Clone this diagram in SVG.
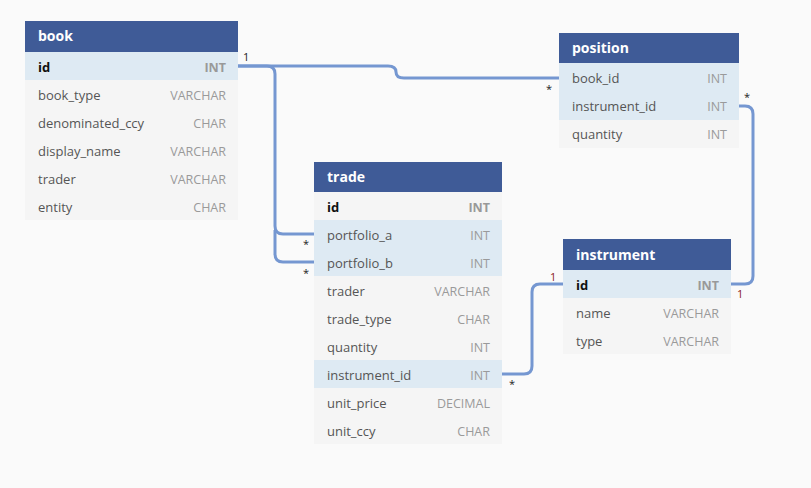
<svg xmlns="http://www.w3.org/2000/svg" width="811" height="488" viewBox="0 0 811 488">
<style>
text{font-family:"Open Sans","Noto Sans","DejaVu Sans",sans-serif}
.hd{fill:#3f5b97}
.hdt{fill:#fff;font-size:14px;font-weight:bold}
.r{fill:#f5f5f5}
.k{fill:#deeaf3}
.n{fill:#555;font-size:13px}
.t{fill:#9a9a9a;font-size:12.5px;text-anchor:end}
.pk{fill:#111;font-size:13px;font-weight:bold}
.pkt{fill:#999;font-size:12.5px;font-weight:bold;text-anchor:end}
.c{fill:none;stroke:#7597d1;stroke-width:3}
.m{font-size:11px;fill:#222}
.o{font-size:11px;fill:#8b1a1a}
</style>
<rect width="811" height="488" fill="#fafafa"/>
<g id="connectors">
<path class="c" d="M238 66 H388 Q396 66 396 72 Q396 78 404 78 H559"/>
<path class="c" d="M238 66 H267 Q275 66 275 74 V226 Q275 234 283 234 H314"/>
<path class="c" d="M275 230 V254 Q275 262 283 262 H314"/>
<path class="c" d="M739 106 H745 Q753 106 753 114 V276 Q753 284 745 284 H731"/>
<path class="c" d="M502 374 H524 Q532 374 532 366 V292 Q532 284 540 284 H563"/>
<text class="m" x="243" y="61">1</text>
<text class="m" x="546" y="93">*</text>
<text class="m" x="303" y="248">*</text>
<text class="m" x="303" y="277">*</text>
<text class="m" x="744" y="101">*</text>
<text class="o" x="737" y="298">1</text>
<text class="o" x="550" y="281">1</text>
<text class="m" x="509" y="388">*</text>
</g>
<g id="book">
<rect class="hd" x="25" y="21" width="213" height="31"/>
<text class="hdt" x="38" y="41">book</text>
<rect class="k" x="25" y="52" width="213" height="28"/>
<rect class="r" x="25" y="80" width="213" height="140"/>
<text class="pk" x="38" y="72">id</text><text class="pkt" x="226" y="72">INT</text>
<text class="n" x="38" y="100">book_type</text><text class="t" x="226" y="100">VARCHAR</text>
<text class="n" x="38" y="128">denominated_ccy</text><text class="t" x="226" y="128">CHAR</text>
<text class="n" x="38" y="156">display_name</text><text class="t" x="226" y="156">VARCHAR</text>
<text class="n" x="38" y="184">trader</text><text class="t" x="226" y="184">VARCHAR</text>
<text class="n" x="38" y="212">entity</text><text class="t" x="226" y="212">CHAR</text>
</g>
<g id="position">
<rect class="hd" x="559" y="33" width="180" height="30"/>
<text class="hdt" x="572" y="53">position</text>
<rect class="k" x="559" y="63" width="180" height="57"/>
<rect class="r" x="559" y="120" width="180" height="28"/>
<text class="n" x="572" y="83">book_id</text><text class="t" x="727" y="83">INT</text>
<text class="n" x="572" y="111">instrument_id</text><text class="t" x="727" y="111">INT</text>
<text class="n" x="572" y="139">quantity</text><text class="t" x="727" y="139">INT</text>
</g>
<g id="trade">
<rect class="hd" x="314" y="162" width="188" height="30"/>
<text class="hdt" x="327" y="182">trade</text>
<rect class="r" x="314" y="192" width="188" height="252"/>
<rect class="k" x="314" y="220" width="188" height="56"/>
<rect class="k" x="314" y="360" width="188" height="28"/>
<text class="pk" x="327" y="212">id</text><text class="pkt" x="490" y="212">INT</text>
<text class="n" x="327" y="240">portfolio_a</text><text class="t" x="490" y="240">INT</text>
<text class="n" x="327" y="268">portfolio_b</text><text class="t" x="490" y="268">INT</text>
<text class="n" x="327" y="296">trader</text><text class="t" x="490" y="296">VARCHAR</text>
<text class="n" x="327" y="324">trade_type</text><text class="t" x="490" y="324">CHAR</text>
<text class="n" x="327" y="352">quantity</text><text class="t" x="490" y="352">INT</text>
<text class="n" x="327" y="380">instrument_id</text><text class="t" x="490" y="380">INT</text>
<text class="n" x="327" y="408">unit_price</text><text class="t" x="490" y="408">DECIMAL</text>
<text class="n" x="327" y="436">unit_ccy</text><text class="t" x="490" y="436">CHAR</text>
</g>
<g id="instrument">
<rect class="hd" x="563" y="239" width="168" height="31"/>
<text class="hdt" x="576" y="260">instrument</text>
<rect class="k" x="563" y="270" width="168" height="28"/>
<rect class="r" x="563" y="298" width="168" height="56"/>
<text class="pk" x="576" y="290">id</text><text class="pkt" x="719" y="290">INT</text>
<text class="n" x="576" y="318">name</text><text class="t" x="719" y="318">VARCHAR</text>
<text class="n" x="576" y="346">type</text><text class="t" x="719" y="346">VARCHAR</text>
</g>
</svg>
